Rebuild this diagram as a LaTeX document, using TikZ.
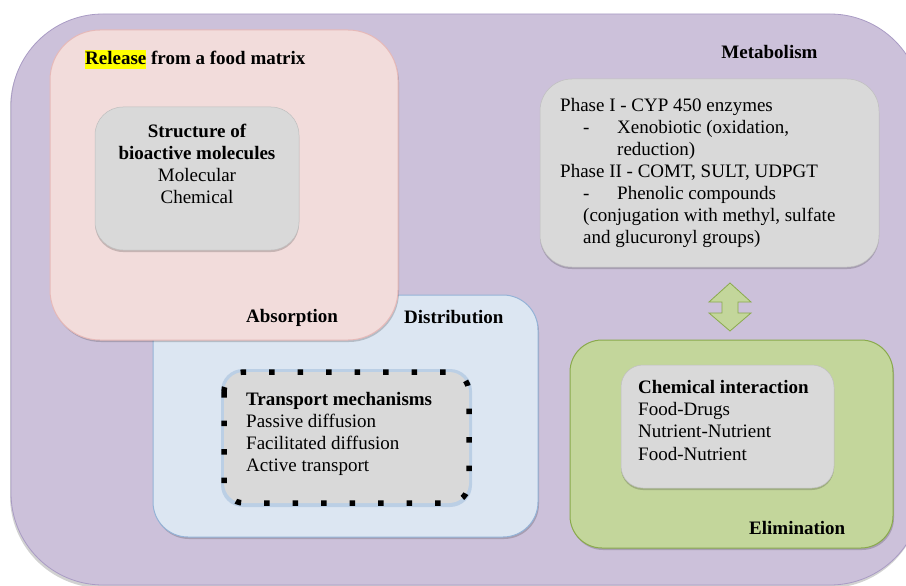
\documentclass[tikz,border=0pt]{standalone}
\usepackage{fontspec}
\setmainfont{Liberation Serif}
\definecolor{purpfill}{HTML}{CCC1DA}
\definecolor{purpline}{HTML}{A99BC4}
\definecolor{pinkfill}{HTML}{F2DCDB}
\definecolor{pinkline}{HTML}{E6B9B8}
\definecolor{bluefill}{HTML}{DCE6F2}
\definecolor{blueline}{HTML}{95B3D7}
\definecolor{greenfill}{HTML}{C3D69B}
\definecolor{greenline}{HTML}{8AAA4C}
\definecolor{grayfill}{HTML}{D9D9D9}
\definecolor{grayline}{HTML}{BFBFBF}
\definecolor{hl}{HTML}{FFFF00}
\begin{document}
\begin{tikzpicture}[x=1pt,y=-1pt,
  txt/.style={inner sep=0pt, anchor=base west, font=\fontsize{19}{22}\selectfont},
  btxt/.style={inner sep=0pt, anchor=base west, font=\fontsize{19}{22}\selectfont\bfseries},
  ctxt/.style={txt, anchor=base},
  cbtxt/.style={btxt, anchor=base},
  shadowfill/.style={fill=black, opacity=0.18},
  graybox/.style={fill=grayfill, draw=grayline, line width=0.5pt}]
\useasboundingbox (0,0) rectangle (906,586);
\clip (0,0) rectangle (906,586);
% outer
\fill[shadowfill, rounded corners=92pt] (10,16) rectangle (921,588);
\draw[fill=purpfill, draw=purpline, line width=0.8pt, rounded corners=92pt] (11,14) rectangle (922,585);
% blue distribution box
\fill[shadowfill, rounded corners=35pt] (154,297) rectangle (539,539);
\draw[fill=bluefill, draw=blueline, line width=1pt, rounded corners=35pt] (153,295) rectangle (538,537);
% pink absorption box
\fill[shadowfill, rounded corners=50pt] (51,32) rectangle (399,342);
\draw[fill=pinkfill, draw=pinkline, line width=1pt, rounded corners=50pt] (50,30) rectangle (398,340);
% structure box
\fill[shadowfill, rounded corners=28pt] (95,109) rectangle (299,252);
\draw[graybox, rounded corners=28pt] (95,107) rectangle (299,250);
% transport box
\fill[fill=blueline, opacity=0.45, rounded corners=22pt] (221,369) rectangle (472,507);
\fill[grayfill, rounded corners=20pt] (224,372) rectangle (469,503);
\draw[line width=5.5pt, dash pattern=on 5.5pt off 23pt, rounded corners=20pt] (224,372) rectangle (469,503);
% metabolism box
\fill[shadowfill, rounded corners=32pt] (540,81) rectangle (879,269);
\draw[graybox, rounded corners=32pt] (540,79) rectangle (879,267);
% double arrow
\draw[fill=greenfill, draw=greenline, line width=0.8pt, line join=miter]
  (730,283) -- (751,302) -- (738,302) -- (738,313) -- (751,313) -- (730,331)
  -- (709,313) -- (722,313) -- (722,302) -- (709,302) -- cycle;
% green elimination box
\fill[shadowfill, rounded corners=32pt] (571,342) rectangle (894,550);
\draw[fill=greenfill, draw=greenline, line width=1pt, rounded corners=32pt] (570,340) rectangle (893,548);
% chemical box
\fill[shadowfill, rounded corners=22pt] (621,367) rectangle (834,490);
\draw[graybox, rounded corners=22pt] (621,365) rectangle (834,488);
% texts
\node[btxt] (rel) at (85,65) {{\setlength\fboxsep{0pt}\colorbox{hl}{\rule[-4pt]{0pt}{19pt}Release}} from a food matrix};
\node[cbtxt] (s1) at (197,137) {Structure of};
\node[cbtxt] (s2) at (197,159) {bioactive molecules};
\node[ctxt] (s3) at (197,181) {Molecular};
\node[ctxt] (s4) at (197,203) {Chemical};
\node[btxt] (absl) at (246,322) {Absorption};
\node[btxt] (disl) at (404,323) {Distribution};
\node[btxt] (t1) at (246,405) {Transport mechanisms};
\node[txt] (t2) at (246,427) {Passive diffusion};
\node[txt] (t3) at (246,449) {Facilitated diffusion};
\node[txt] (t4) at (246,471) {Active transport};
\node[cbtxt] (metl) at (769.5,59) {Metabolism};
\node[txt] (m1) at (560,111) {Phase I - CYP 450 enzymes};
\node[txt] (m2d) at (583,133) {-};
\node[txt] (m2) at (617,133) {Xenobiotic (oxidation,};
\node[txt] (m3) at (617,155) {reduction)};
\node[txt] (m4) at (560,177) {Phase II - COMT, SULT, UDPGT};
\node[txt] (m5d) at (583,199) {-};
\node[txt] (m5) at (617,199) {Phenolic compounds};
\node[txt] (m6) at (583,221) {(conjugation with methyl, sulfate};
\node[txt] (m7) at (583,243) {and glucuronyl groups)};
\node[btxt] (c1) at (638,393) {Chemical interaction};
\node[txt] (c2) at (638,415) {Food-Drugs};
\node[txt] (c3) at (638,437) {Nutrient-Nutrient};
\node[txt] (c4) at (638,460) {Food-Nutrient};
\node[btxt] (elim) at (749,534) {Elimination};
\end{tikzpicture}
\end{document}
